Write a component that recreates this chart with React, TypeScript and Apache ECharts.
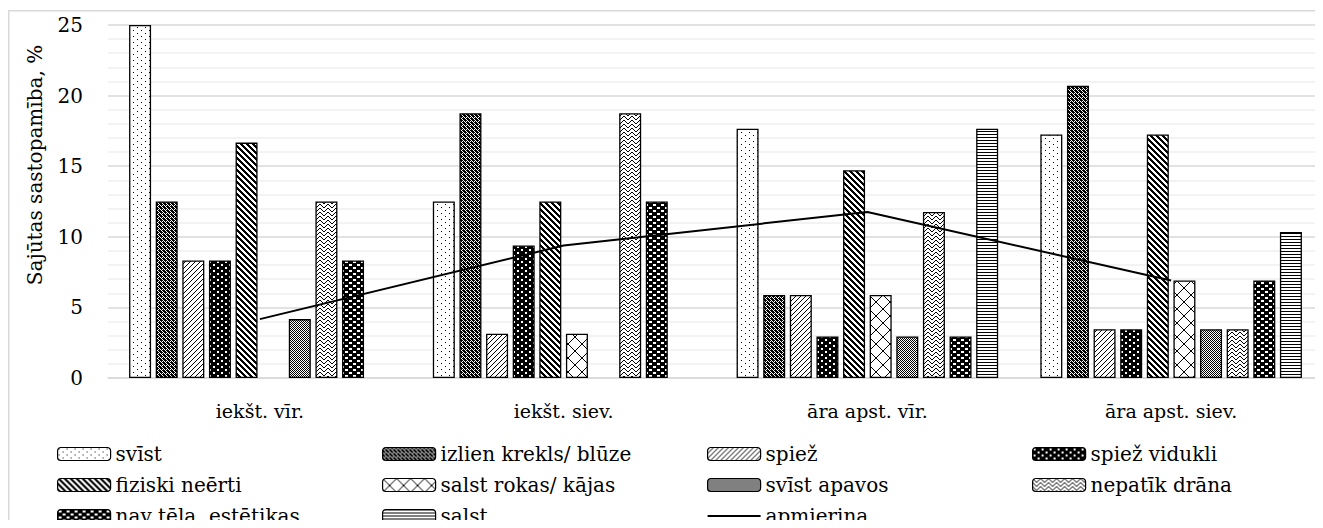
import React, { useEffect, useRef } from 'react';
import * as echarts from 'echarts';

const categories = ['iekšt. vīr.', 'iekšt. siev.', 'āra apst. vīr.', 'āra apst. siev.'];

const svist = [25, 12.5, 17.65, 17.24];
const izlienKrekls = [12.5, 18.75, 5.88, 20.69];
const spiez = [8.33, 3.13, 5.88, 3.45];
const spiezVidukli = [8.33, 9.38, 2.94, 3.45];
const fiziskiNeerti = [16.67, 12.5, 14.71, 17.24];
const salstRokas = [0, 3.13, 5.88, 6.9];
const svistApavos = [4.17, 0, 2.94, 3.45];
const nepatikDrana = [12.5, 18.75, 11.76, 3.45];
const navTela = [8.33, 12.5, 2.94, 6.9];
const salst = [0, 0, 17.65, 10.34];
const apmierina = [4.17, 9.38, 11.76, 6.9];

const barNames = [
  'svīst',
  'izlien krekls/ blūze',
  'spiež',
  'spiež vidukli',
  'fiziski neērti',
  'salst rokas/ kājas',
  'svīst apavos',
  'nepatīk drāna',
  'nav tēla, estētikas',
  'salst',
];
const barValues = [
  svist, izlienKrekls, spiez, spiezVidukli, fiziskiNeerti,
  salstRokas, svistApavos, nepatikDrana, navTela, salst,
];
const lineName = 'apmierina';
const yTitle = 'Sajūtas sastopamība, %';

const FONT = 'DejaVu Serif, serif';

function tile(w: number, h: number, bg: string, draw: (px: (x: number, y: number, pw?: number, ph?: number) => void) => void) {
  const c = document.createElement('canvas');
  c.width = w;
  c.height = h;
  const ctx = c.getContext('2d')!;
  ctx.fillStyle = bg;
  ctx.fillRect(0, 0, w, h);
  const fg = bg === '#000000' ? '#ffffff' : '#000000';
  ctx.fillStyle = fg;
  draw((x, y, pw = 1, ph = 1) => ctx.fillRect(x, y, pw, ph));
  return c;
}

function makePatterns() {
  const W = '#ffffff';
  const B = '#000000';
  const p: HTMLCanvasElement[] = [];
  // svīst: sparse dots
  p.push(tile(8, 6, W, (px) => { px(1, 1); px(5, 4); }));
  // izlien krekls/ blūze: dark checker
  p.push(tile(4, 4, W, (px) => {
    for (let x = 0; x < 4; x++) for (let y = 0; y < 4; y++) if ((x + y) % 2 === 0) px(x, y);
    px(1, 0); px(3, 2); px(0, 3);
  }));
  // spiež: thin upward diagonal
  p.push(tile(5, 5, W, (px) => { for (let x = 0; x < 5; x++) for (let y = 0; y < 5; y++) if ((x + y) % 5 === 0) px(x, y); }));
  // spiež vidukli: black with white dots
  p.push(tile(8, 6, B, (px) => { px(1, 1, 2, 2); px(5, 4, 2, 2); }));
  // fiziski neērti: wide downward diagonal
  p.push(tile(6, 6, W, (px) => { for (let x = 0; x < 6; x++) for (let y = 0; y < 6; y++) if ((((x - y) % 6) + 6) % 6 < 3) px(x, y); }));
  // salst rokas/ kājas: large diagonal cross
  p.push(tile(14, 14, W, (px) => { for (let i = 0; i < 14; i++) { px(i, i); px(i, 13 - i); } }));
  // svīst apavos: fine checker
  p.push(tile(2, 2, W, (px) => { px(0, 0); px(1, 1); }));
  // nepatīk drāna: zigzag
  p.push(tile(8, 8, W, (px) => { for (let x = 0; x < 8; x++) { const y = x < 4 ? x : 7 - x; px(x, y); px(x, (y + 4) % 8); } }));
  // nav tēla, estētikas: black with white dashes
  p.push(tile(8, 6, B, (px) => { px(1, 1, 3, 2); px(5, 4, 3, 2); }));
  // salst: horizontal lines
  p.push(tile(1, 3, W, (px) => { px(0, 0); }));
  return p;
}

export default function App() {
  const ref = useRef<HTMLDivElement>(null);
  useEffect(() => {
    document.documentElement.style.overflow = 'hidden';
    const chart = echarts.init(ref.current!, null, { renderer: 'svg' });
    const patterns = makePatterns();

    const barSeries = barNames.map((name, i) => ({
      type: 'bar',
      name,
      data: barValues[i].map((v) => (v === 0 ? { value: v, itemStyle: { borderWidth: 0 } } : v)),
      barWidth: 22,
      barGap: '21%',
      itemStyle: {
        color: { image: patterns[i], repeat: 'repeat' },
        borderColor: '#000',
        borderWidth: 1.3,
      },
    }));

    const legendCommon = {
      orient: 'vertical',
      top: 436,
      height: 200,
      padding: 0,
      itemWidth: 53,
      itemHeight: 13,
      itemGap: 11,
      selectedMode: false,
      textStyle: { fontFamily: FONT, fontSize: 20, color: '#000', lineHeight: 20 },
      itemStyle: { borderColor: '#000', borderWidth: 1.2 },
    };

    const lineLegendItem = {
      name: lineName,
      icon: 'path://M0 0H53V2H0Z',
      itemStyle: { color: '#000', borderWidth: 0 },
    };

    chart.setOption({
      animation: false,
      backgroundColor: '#ffffff',
      textStyle: { fontFamily: FONT },
      grid: { left: 100, top: 17, width: 1224, height: 353, containLabel: false },
      xAxis: {
        type: 'category',
        data: categories,
        axisLine: { lineStyle: { color: '#d9d9d9', width: 1.5 } },
        axisTick: { show: false },
        axisLabel: { fontFamily: FONT, fontSize: 19, color: '#000', margin: 23 },
      },
      yAxis: {
        type: 'value',
        min: 0,
        max: 25,
        interval: 5,
        axisLine: { show: false },
        axisTick: { show: false },
        axisLabel: { fontFamily: FONT, fontSize: 20, color: '#000', margin: 25 },
        splitLine: { lineStyle: { color: '#d9d9d9', width: 1.5 } },
        minorTick: { show: false, splitNumber: 5 },
        minorSplitLine: { show: true, lineStyle: { color: '#efefef', width: 1.5 } },
      },
      legend: [
        { ...legendCommon, left: 49, data: [barNames[0], barNames[4], barNames[8]] },
        { ...legendCommon, left: 374, data: [barNames[1], barNames[5], barNames[9]] },
        { ...legendCommon, left: 699, data: [barNames[2], barNames[6], lineLegendItem] },
        { ...legendCommon, left: 1024, data: [barNames[3], barNames[7]] },
      ],
      graphic: [
        {
          type: 'rect',
          silent: true,
          shape: { x: 0.75, y: 2.75, width: 3000, height: 3000 },
          style: { fill: 'none', stroke: '#d9d9d9', lineWidth: 1.5 },
          z: -10,
        },
        {
          type: 'text',
          x: 27,
          y: 157,
          rotation: Math.PI / 2,
          style: {
            text: yTitle,
            fontFamily: FONT,
            fontSize: 20,
            fill: '#000',
            align: 'center',
            verticalAlign: 'middle',
          },
        },
      ],
      series: [
        ...barSeries,
        {
          type: 'line',
          name: lineName,
          data: apmierina,
          symbol: 'none',
          z: 5,
          lineStyle: { color: '#000', width: 2 },
          itemStyle: { color: '#000' },
        },
      ],
    });
    return () => chart.dispose();
  }, []);
  return <div ref={ref} style={{ width: 1315, height: 520, marginBottom: -8 }} />;
}
